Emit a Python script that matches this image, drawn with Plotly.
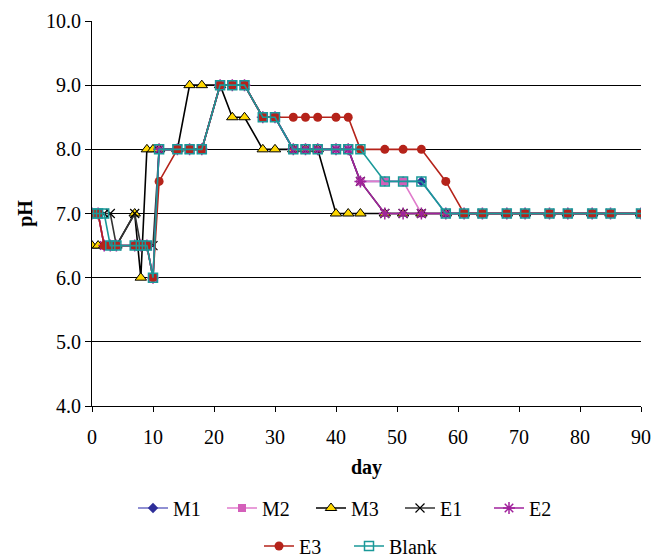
import plotly.graph_objects as go

days = [0, 1, 2, 3, 4, 7, 8, 9, 10, 11, 14, 16, 18, 21, 23, 25, 28, 30, 33, 35, 37,
        40, 42, 44, 48, 51, 54, 58, 61, 64, 68, 71, 75, 78, 82, 85, 90]

M1 = [7.0, 7.0, 6.5, 6.5, 6.5, 6.5, 6.5, 6.5, 6.0, 8.0, 8.0, 8.0, 8.0, 9.0, 9.0, 9.0, 8.5, 8.5, 8.0, 8.0, 8.0,
      8.0, 8.0, 7.5, 7.5, 7.5, 7.5, 7.0, 7.0, 7.0, 7.0, 7.0, 7.0, 7.0, 7.0, 7.0, 7.0]
M2 = [7.0, 7.0, 6.5, 6.5, 6.5, 6.5, 6.5, 6.5, 6.0, 8.0, 8.0, 8.0, 8.0, 9.0, 9.0, 9.0, 8.5, 8.5, 8.0, 8.0, 8.0,
      8.0, 8.0, 7.5, 7.5, 7.5, 7.0, 7.0, 7.0, 7.0, 7.0, 7.0, 7.0, 7.0, 7.0, 7.0, 7.0]
M3 = [6.5, 6.5, 6.5, 6.5, 6.5, 7.0, 6.0, 8.0, 8.0, 8.0, 8.0, 9.0, 9.0, 9.0, 8.5, 8.5, 8.0, 8.0, 8.0, 8.0, 8.0,
      7.0, 7.0, 7.0, 7.0, 7.0, 7.0, 7.0, 7.0, 7.0, 7.0, 7.0, 7.0, 7.0, 7.0, 7.0, 7.0]
E1 = [7.0, 7.0, 7.0, 7.0, 6.5, 7.0, 6.5, 6.5, 6.5, 8.0, 8.0, 8.0, 8.0, 9.0, 9.0, 9.0, 8.5, 8.5, 8.0, 8.0, 8.0,
      8.0, 8.0, 7.5, 7.0, 7.0, 7.0, 7.0, 7.0, 7.0, 7.0, 7.0, 7.0, 7.0, 7.0, 7.0, 7.0]
E2 = [7.0, 7.0, 6.5, 6.5, 6.5, 6.5, 6.5, 6.5, 6.0, 8.0, 8.0, 8.0, 8.0, 9.0, 9.0, 9.0, 8.5, 8.5, 8.0, 8.0, 8.0,
      8.0, 8.0, 7.5, 7.0, 7.0, 7.0, 7.0, 7.0, 7.0, 7.0, 7.0, 7.0, 7.0, 7.0, 7.0, 7.0]
E3 = [7.0, 7.0, 6.5, 6.5, 6.5, 6.5, 6.5, 6.5, 6.0, 7.5, 8.0, 8.0, 8.0, 9.0, 9.0, 9.0, 8.5, 8.5, 8.5, 8.5, 8.5,
      8.5, 8.5, 8.0, 8.0, 8.0, 8.0, 7.5, 7.0, 7.0, 7.0, 7.0, 7.0, 7.0, 7.0, 7.0, 7.0]
Blank = [7.0, 7.0, 7.0, 6.5, 6.5, 6.5, 6.5, 6.5, 6.0, 8.0, 8.0, 8.0, 8.0, 9.0, 9.0, 9.0, 8.5, 8.5, 8.0, 8.0, 8.0,
         8.0, 8.0, 8.0, 7.5, 7.5, 7.5, 7.0, 7.0, 7.0, 7.0, 7.0, 7.0, 7.0, 7.0, 7.0, 7.0]

x_ticks = [0, 10, 20, 30, 40, 50, 60, 70, 80, 90]
y_ticks = [4.0, 5.0, 6.0, 7.0, 8.0, 9.0, 10.0]

FONT = "Liberation Serif"

series = [
    ("M1", M1, dict(symbol="diamond", size=8, color="#2e2e99", line=dict(width=0)), "#6b6bc4", "legend"),
    ("M2", M2, dict(symbol="square", size=8, color="#d45fba", line=dict(width=0)), "#e07ccc", "legend"),
    ("M3", M3, dict(symbol="triangle-up", size=10, color="#ffd700", line=dict(width=1, color="#000000")), "#000000", "legend"),
    ("E1", E1, dict(symbol="x-thin", size=9, color="#000000", line=dict(width=1.2, color="#000000")), "#333333", "legend"),
    ("E2", E2, dict(symbol="asterisk", size=10, color="#a1229c", line=dict(width=1.5, color="#a1229c")), "#a1229c", "legend"),
    ("E3", E3, dict(symbol="circle", size=9, color="#b5231a", line=dict(width=0)), "#b5231a", "legend2"),
    ("Blank", Blank, dict(symbol="square-open", size=9, color="#1a9999", line=dict(width=1.5, color="#1a9999")), "#1a9999", "legend3"),
]

fig = go.Figure()
for name, ys, marker, lc, lg in series:
    fig.add_trace(go.Scatter(
        x=days, y=ys, name=name, mode="lines+markers",
        line=dict(color=lc, width=1.6), marker=marker, legend=lg,
    ))

axis_font = dict(family=FONT, size=20, color="#000000")


def legend_box(left_px, mid_px, width=None):
    d = dict(orientation="h", xref="container", yref="container",
             x=left_px / 651, xanchor="left", y=1 - mid_px / 559, yanchor="middle",
             font=dict(family=FONT, size=20), itemwidth=30, tracegroupgap=0,
             bgcolor="rgba(0,0,0,0)")
    if width:
        d.update(entrywidth=width, entrywidthmode="pixels")
    return d


fig.update_layout(
    width=651, height=559,
    margin=dict(l=92, r=10, t=21, b=153),
    paper_bgcolor="white", plot_bgcolor="white",
    font=dict(family=FONT, size=20, color="#000000"),
    xaxis=dict(
        range=[0, 90], tickvals=x_ticks, ticktext=[str(v) for v in x_ticks],
        showgrid=False, zeroline=False, automargin=False,
        showline=True, linecolor="#000000", linewidth=1,
        ticks="outside", ticklen=5, tickcolor="#000000",
        ticklabelstandoff=8,
        tickfont=axis_font,
        title=dict(text="<b>day</b>", font=axis_font, standoff=12),
    ),
    yaxis=dict(
        range=[4, 10], tickvals=y_ticks, ticktext=[f"{v:.1f}" for v in y_ticks],
        showgrid=True, gridcolor="#000000", gridwidth=1, zeroline=False, automargin=False,
        showline=True, linecolor="#000000", linewidth=1,
        ticks="outside", ticklen=6, tickcolor="#000000",
        tickfont=axis_font,
        title=dict(text="<b>pH</b>", font=axis_font, standoff=8),
    ),
    legend=legend_box(133, 508, 44),
    legend2=legend_box(259, 546),
    legend3=legend_box(349, 546),
    showlegend=True,
)

fig.write_html("out.html")
